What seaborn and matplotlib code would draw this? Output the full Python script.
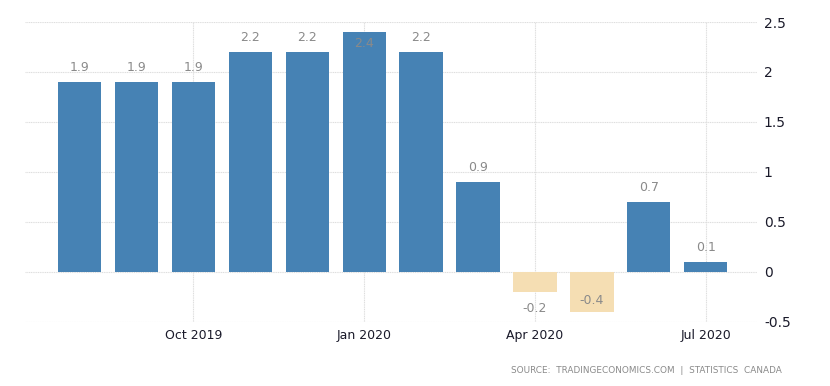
import numpy as np
import pandas as pd
import seaborn as sns
import matplotlib.pyplot as plt

# Canada inflation rate, monthly (Aug 2019 - Jul 2020)
months = ["Aug 2019", "Sep 2019", "Oct 2019", "Nov 2019", "Dec 2019", "Jan 2020",
          "Feb 2020", "Mar 2020", "Apr 2020", "May 2020", "Jun 2020", "Jul 2020"]
values = [1.9, 1.9, 1.9, 2.2, 2.2, 2.4, 2.2, 0.9, -0.2, -0.4, 0.7, 0.1]
tick_months = ["Oct 2019", "Jan 2020", "Apr 2020", "Jul 2020"]
tick_labels = ["Oct 2019", "Jan 2020", "Apr 2020", "Jul 2020"]
y_ticks = [-0.5, 0, 0.5, 1, 1.5, 2, 2.5]
y_tick_labels = ["-0.5", "0", "0.5", "1", "1.5", "2", "2.5"]

df = pd.DataFrame({"month": months, "value": values})
df["sign"] = np.where(df["value"] >= 0, "pos", "neg")

sns.set_style("white")
plt.rcParams["font.family"] = ["DejaVu Sans"]

fig = plt.figure(figsize=(8.3, 3.86), dpi=100)
ax = fig.add_axes([0.030, 0.166, 0.882, 0.777])

sns.barplot(data=df, x="month", y="value", hue="sign", order=months,
            palette={"pos": "#4682b4", "neg": "#f5deb3"}, dodge=False,
            width=0.76, legend=False, ax=ax, saturation=1, linewidth=0)

ax.set_ylim(-0.5, 2.5)
ax.set_xlim(-0.96, 11.9)

# value labels, kept inside the plot area
ymin, ymax = ax.get_ylim()
for i, v in enumerate(values):
    off = 0.14 if v >= 0 else -0.17
    y = v + off
    if y > ymax - 0.03:
        y = v - 0.12
    if y < ymin + 0.03:
        y = v + 0.11
    ax.text(i, y, f"{v:g}", ha="center", va="center", fontsize=9, color="#8a8a8a")

# axes styling
ax.yaxis.tick_right()
ax.set_yticks(y_ticks)
ax.set_yticklabels(y_tick_labels, fontsize=10, color="#1a1a2a")
ax.set_xticks([months.index(m) for m in tick_months])
ax.set_xticklabels(tick_labels, fontsize=9, color="#1a1a2a")
ax.tick_params(axis="both", length=0, pad=5)
ax.set_xlabel("")
ax.set_ylabel("")
ax.grid(True, color="#dedede", linestyle=(0, (1, 0.6)), linewidth=0.8)
ax.set_axisbelow(True)
for s in ax.spines.values():
    s.set_visible(False)

fig.text(0.942, 0.04, "SOURCE:  TRADINGECONOMICS.COM  |  STATISTICS  CANADA",
         ha="right", va="center", fontsize=6.4, color="#8a8a8a")

fig.savefig("out.png", dpi=100)
